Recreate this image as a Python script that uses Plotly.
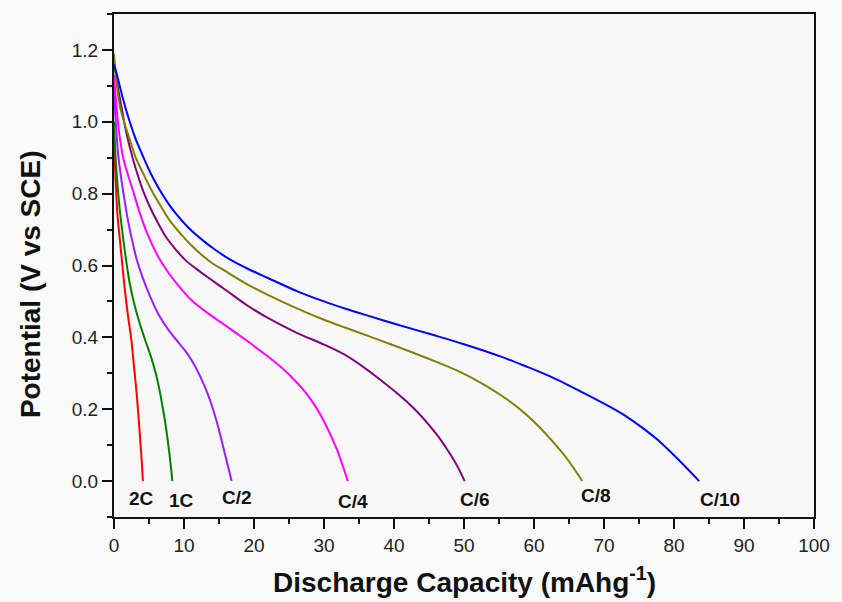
import plotly.graph_objects as go

# ---- data ----
rates = ["2C", "1C", "C/2", "C/4", "C/6", "C/8", "C/10"]
colors = ["#ff0000", "#008000", "#9b1fff", "#ff00ff", "#800080", "#808000", "#0000ff"]

x_2C = [0, 0.2, 0.5, 0.84, 1.2, 1.55, 2.0, 2.48, 2.85, 3.19, 3.5, 3.75, 3.98, 4.13]
y_2C = [0.95, 0.85, 0.74, 0.672, 0.6, 0.533, 0.46, 0.393, 0.32, 0.254, 0.18, 0.114, 0.05, 0.0]

x_1C = [0, 0.2, 0.4, 0.8, 1.31, 1.8, 2.25, 3.0, 3.66, 4.5, 5.3, 6.0, 6.47, 7.0, 7.41, 7.9, 8.34]
y_1C = [1.0, 0.91, 0.85, 0.76, 0.675, 0.605, 0.55, 0.485, 0.44, 0.39, 0.345, 0.297, 0.256, 0.2, 0.151, 0.08, 0.0]

x_C2 = [0, 0.25, 0.61, 1.05, 1.55, 2.0, 2.48, 3.2, 4.12, 5.2, 6.47, 7.8, 9.28, 10.5, 11.63, 12.6, 13.5, 14.3, 14.9, 15.6, 16.3, 16.8]
y_C2 = [1.1, 1.0, 0.905, 0.84, 0.777, 0.725, 0.68, 0.62, 0.565, 0.512, 0.46, 0.42, 0.384, 0.354, 0.318, 0.279, 0.237, 0.19, 0.15, 0.095, 0.04, 0.0]

x_C4 = [0, 0.4, 0.8, 1.31, 2.0, 2.72, 3.7, 4.83, 6.3, 7.88, 9.5, 11.15, 13.5, 15.85, 19.1, 21.9, 23.8, 25.6, 27.3, 28.7, 29.9, 31.8, 33.4]
y_C4 = [1.13, 1.03, 0.96, 0.9, 0.852, 0.808, 0.745, 0.685, 0.625, 0.577, 0.537, 0.502, 0.466, 0.434, 0.389, 0.348, 0.318, 0.285, 0.248, 0.21, 0.17, 0.09, 0.0]

x_C6 = [0, 0.14, 0.6, 1.08, 1.6, 2.25, 3.1, 4.12, 5.2, 6.3, 7.41, 8.8, 10.2, 11.8, 13.5, 16.3, 19.1, 21.9, 26.2, 30.0, 33.2, 37.9, 42.6, 45.9, 47.3, 48.8, 50.1]
y_C6 = [1.16, 1.146, 1.09, 1.04, 0.985, 0.93, 0.87, 0.81, 0.76, 0.718, 0.68, 0.645, 0.615, 0.59, 0.566, 0.527, 0.488, 0.455, 0.412, 0.38, 0.349, 0.284, 0.207, 0.135, 0.097, 0.05, 0.0]

x_C8 = [0, 0.3, 0.84, 1.5, 2.25, 3.1, 4.12, 5.2, 6.47, 8.0, 9.75, 11.0, 12.5, 14.0, 15.85, 19.1, 21.9, 26.2, 30.0, 33.2, 40.2, 45.9, 49.5, 52.9, 55.5, 57.6, 60.0, 62.3, 64.8, 66.9]
y_C8 = [1.19, 1.12, 1.044, 0.995, 0.951, 0.9, 0.858, 0.815, 0.772, 0.724, 0.683, 0.657, 0.63, 0.607, 0.585, 0.547, 0.519, 0.48, 0.449, 0.426, 0.376, 0.333, 0.303, 0.268, 0.236, 0.206, 0.165, 0.118, 0.06, 0.0]

x_C10 = [0, 0.37, 1.2, 2.25, 3.1, 4.12, 5.2, 6.47, 7.6, 8.82, 10.5, 12.56, 14.5, 16.8, 19.1, 21.9, 26.2, 30.0, 33.2, 36.5, 40.2, 45.9, 50.0, 55.2, 59.0, 62.0, 64.6, 68.4, 71.0, 73.0, 75.5, 77.7, 80.5, 83.6]
y_C10 = [1.16, 1.135, 1.07, 1.0, 0.952, 0.905, 0.858, 0.812, 0.777, 0.745, 0.708, 0.672, 0.643, 0.614, 0.591, 0.566, 0.528, 0.5, 0.479, 0.459, 0.437, 0.405, 0.381, 0.347, 0.318, 0.294, 0.27, 0.232, 0.205, 0.182, 0.148, 0.114, 0.062, 0.0]

xs = [x_2C, x_1C, x_C2, x_C4, x_C6, x_C8, x_C10]
ys = [y_2C, y_1C, y_C2, y_C4, y_C6, y_C8, y_C10]

label_x = [3.9, 9.7, 17.6, 34.2, 51.5, 68.8, 86.5]
label_y = [-0.048, -0.053, -0.045, -0.056, -0.051, -0.039, -0.051]

x_ticks = list(range(0, 101, 10))
y_ticks = [0.0, 0.2, 0.4, 0.6, 0.8, 1.0, 1.2]

FONT = "Arial, 'Liberation Sans', sans-serif"

fig = go.Figure()
for name, c, xv, yv in zip(rates, colors, xs, ys):
    fig.add_trace(go.Scatter(x=xv, y=yv, mode="lines", name=name,
                             line=dict(color=c, width=2, shape="spline", smoothing=0.8)))

for name, lx, ly in zip(rates, label_x, label_y):
    fig.add_annotation(x=lx, y=ly, xref="x", yref="y", text="<b>%s</b>" % name,
                       showarrow=False, xanchor="center", yanchor="middle",
                       font=dict(family=FONT, size=19, color="#111111"))

fig.add_annotation(x=0.5, y=-0.125, xref="paper", yref="paper",
                   xanchor="center", yanchor="middle",
                   text="<b>Discharge Capacity (mAhg<sup>-1</sup>)</b>", showarrow=False,
                   font=dict(family=FONT, size=28, color="#111111"))
fig.add_annotation(x=-0.12, y=0.463, xref="paper", yref="paper", textangle=-90,
                   xanchor="center", yanchor="middle",
                   text="<b>Potential (V vs SCE)</b>", showarrow=False,
                   font=dict(family=FONT, size=28, color="#111111"))

axis_common = dict(showgrid=False, zeroline=False, showline=True, linecolor="#111111",
                   linewidth=2, mirror=True, ticks="outside", ticklen=10, tickwidth=2,
                   tickcolor="#111111", tickfont=dict(family=FONT, size=19, color="#222222"))

fig.update_xaxes(range=[0, 100], tickvals=x_ticks,
                 minor=dict(dtick=5, tick0=0, ticks="outside", ticklen=5, tickwidth=2, tickcolor="#111111"),
                 **axis_common)
fig.update_yaxes(range=[-0.1, 1.3], tickvals=y_ticks, tickformat=".1f",
                 minor=dict(dtick=0.1, tick0=0, ticks="outside", ticklen=5, tickwidth=2, tickcolor="#111111"),
                 **axis_common)

fig.update_layout(width=842, height=602, showlegend=False,
                  margin=dict(l=114, r=17, t=14, b=85),
                  paper_bgcolor="#fafafa", plot_bgcolor="#f8f8f8",
                  font=dict(family=FONT))

fig.write_html("out.html")
